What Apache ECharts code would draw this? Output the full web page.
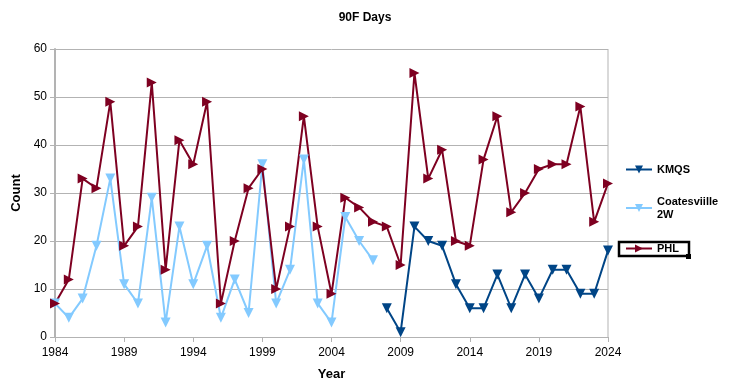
<!DOCTYPE html>
<html>
<head>
<meta charset="utf-8">
<script src="https://cdn.jsdelivr.net/npm/echarts@6/dist/echarts.min.js"></script>
<style>
html,body{margin:0;padding:0;background:#fff;}
#chart{width:730px;height:382px;}
</style>
</head>
<body>
<div id="chart"></div>
<script>
const years = [];
for (let y = 1984; y <= 2024; y++) years.push(String(y));

const phl = [7,12,33,31,49,19,23,53,14,41,36,49,7,20,31,35,10,23,46,23,9,29,27,24,23,15,55,33,39,20,19,37,46,26,30,35,36,36,48,24,32];
const coatesville = [7,4,8,19,33,11,7,29,3,23,11,19,4,12,5,36,7,14,37,7,3,25,20,16,null,null,null,null,null,null,null,null,null,null,null,null,null,null,null,null,null];
const kmqs = [null,null,null,null,null,null,null,null,null,null,null,null,null,null,null,null,null,null,null,null,null,null,null,null,6,1,23,20,19,11,6,6,13,6,13,8,14,14,9,9,18];

const font = 'Liberation Sans, Arial, sans-serif';
const chart = echarts.init(document.getElementById('chart'));

function lineSeries(name, data, color, rot) {
  return {
    name: name, type: 'line', data: data, color: color,
    symbol: 'triangle', symbolSize: 10, symbolRotate: rot,
    showAllSymbol: true,
    lineStyle: {width: 2, color: color},
    itemStyle: {color: color},
    connectNulls: false, animation: false
  };
}

chart.setOption({
  animation: false,
  title: {
    text: '90F Days', left: 'center', top: 7,
    textStyle: {fontFamily: font, fontSize: 12, fontWeight: 'bold', color: '#000'}
  },
  grid: {left: 55, right: 122, top: 49, bottom: 45, containLabel: false, outerBoundsMode: 'none'},
  xAxis: {
    type: 'category', data: years, boundaryGap: false,
    name: 'Year', nameLocation: 'middle', nameGap: 31,
    nameTextStyle: {fontFamily: font, fontSize: 13, fontWeight: 'bold', color: '#000'},
    axisLine: {lineStyle: {color: '#b3b3b3', width: 1}},
    axisTick: {interval: 4, length: 5, lineStyle: {color: '#b3b3b3'}},
    axisLabel: {interval: 4, fontFamily: font, fontSize: 12, color: '#000', margin: 10},
    splitLine: {show: false}
  },
  yAxis: {
    type: 'value', min: 0, max: 60, interval: 10,
    name: 'Count', nameLocation: 'middle', nameGap: 31, nameRotate: 90,
    nameTextStyle: {fontFamily: font, fontSize: 13, fontWeight: 'bold', color: '#000'},
    axisLine: {show: true, lineStyle: {color: '#b3b3b3', width: 2}},
    axisTick: {show: true, length: 5, lineStyle: {color: '#b3b3b3'}},
    axisLabel: {fontFamily: font, fontSize: 12, color: '#000', margin: 8},
    splitLine: {show: true, lineStyle: {color: '#b3b3b3', width: 1}}
  },
  legend: [
    {data: ['KMQS'], orient: 'vertical', left: 620, top: 159, itemWidth: 26, itemHeight: 10,
     textStyle: {fontFamily: font, fontSize: 11, fontWeight: 'bold', color: '#000'}},
    {data: ['Coatesviille\n2W'], orient: 'vertical', left: 620, top: 190, itemWidth: 26, itemHeight: 10,
     textStyle: {fontFamily: font, fontSize: 11, fontWeight: 'bold', color: '#000', lineHeight: 13}},
    {data: ['PHL'], orient: 'vertical', left: 620, top: 238, itemWidth: 26, itemHeight: 10,
     textStyle: {fontFamily: font, fontSize: 11, fontWeight: 'bold', color: '#000'}}
  ],
  graphic: [
    {type: 'rect', shape: {x: 619, y: 242, width: 70, height: 14}, style: {fill: null, stroke: '#000', lineWidth: 2.5}, silent: true},
    {type: 'rect', shape: {x: 686, y: 254, width: 5, height: 5}, style: {fill: '#000'}, silent: true},
    {type: 'line', shape: {x1: 608, y1: 49, x2: 608, y2: 337}, style: {stroke: '#b3b3b3', lineWidth: 1}, silent: true}
  ],
  series: [
    lineSeries('KMQS', kmqs, '#004586', 180),
    lineSeries('Coatesviille\n2W', coatesville, '#83caff', 180),
    lineSeries('PHL', phl, '#7e0021', -90)
  ]
});
</script>
</body>
</html>
